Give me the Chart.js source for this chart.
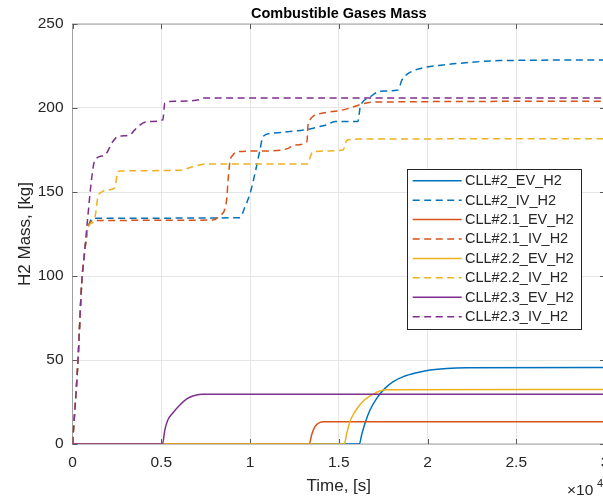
<!DOCTYPE html>
<html>
<head>
<meta charset="utf-8">
<script src="https://cdn.jsdelivr.net/npm/chart.js@4.4.0/dist/chart.umd.min.js"></script>
<style>
  html, body { margin: 0; padding: 0; overflow: hidden; background: #fff; width: 603px; height: 499px; }
  #wrap { position: absolute; left: 0; top: 0; width: 612px; height: 499px; }
</style>
</head>
<body>
<div id="wrap"><canvas id="c" width="612" height="499"></canvas></div>
<script>
// Axis ticks
const xTickValues = [0, 5000, 10000, 15000, 20000, 25000, 30000];
const xTickLabels = ['0', '0.5', '1', '1.5', '2', '2.5', '3'];
const yTickValues = [0, 50, 100, 150, 200, 250];
const yTickLabels = ['0', '50', '100', '150', '200', '250'];

// Series names
const seriesNames = ['CLL#2_EV_H2', 'CLL#2_IV_H2', 'CLL#2.1_EV_H2', 'CLL#2.1_IV_H2',
                     'CLL#2.2_EV_H2', 'CLL#2.2_IV_H2', 'CLL#2.3_EV_H2', 'CLL#2.3_IV_H2'];

// CLL#2
const cll2EvTime = [0, 16160, 16290, 16480, 16760, 17140, 17600, 18070, 18640, 19390, 20140, 21080, 22210, 30000];
const cll2EvMass = [0, 0, 5.4, 12.3, 20.2, 27.2, 33.1, 37.1, 40.1, 42.4, 44.0, 45.0, 45.4, 45.5];
const cll2IvTime = [0, 300, 520, 690, 860, 1000, 1150, 9430, 9710, 10000, 10280, 10560, 10730, 11290, 12250, 13370, 13940, 14330, 14790, 16080, 16200, 16310, 16760, 17320, 18340, 18560, 18840, 19410, 19970, 20870, 21660, 24090, 30000];
const cll2IvMass = [0, 48, 96, 115, 128, 132.5, 134.3, 134.7, 141, 149, 161, 175, 183, 185, 186, 187.5, 189, 190, 192, 192, 200, 203, 206.5, 210, 210.7, 216.7, 220, 223, 224.4, 225.6, 226.5, 228.2, 228.6];

// CLL#2.1
const cll21EvTime = [0, 13340, 13470, 13660, 13940, 14170, 30000];
const cll21EvMass = [0, 0, 5.4, 10.3, 12.9, 13.3, 13.3];
const cll21IvTime = [0, 300, 520, 690, 860, 1000, 1150, 7920, 8300, 8590, 8700, 8750, 8870, 9040, 9320, 10390, 11850, 12140, 12530, 13210, 13260, 13380, 13550, 14110, 15070, 15630, 16200, 16870, 30000];
const cll21IvMass = [0, 48, 96, 115, 128, 132, 133, 133.3, 136, 140, 147, 155, 168, 172, 174, 174.4, 175, 176, 178, 180, 189, 193, 195, 197, 198.5, 200, 202, 203.5, 204];

// CLL#2.2
const cll22EvTime = [0, 15310, 15450, 15630, 15910, 16290, 16760, 17320, 17700, 30000];
const cll22EvMass = [0, 0, 6.4, 13.3, 19.2, 24.6, 28.6, 31.5, 32.3, 32.4];
const cll22IvTime = [0, 300, 520, 690, 860, 1000, 1150, 1300, 1430, 1650, 1820, 2380, 2550, 2670, 6050, 6780, 7570, 13210, 13550, 15240, 15470, 16200, 30000];
const cll22IvMass = [0, 48, 96, 115, 128, 131, 132, 137, 147, 150, 151, 152.4, 162, 162.5, 163, 165, 166.7, 166.7, 174, 175, 181, 181.5, 181.7];

// CLL#2.3
const cll23EvTime = [0, 5070, 5200, 5370, 5650, 6050, 6440, 6780, 7290, 30000];
const cll23EvMass = [0, 0, 8.3, 14.3, 18.5, 23.2, 26.8, 28.6, 29.6, 29.6];
const cll23IvTime = [0, 300, 520, 690, 860, 1090, 1260, 1820, 2270, 2550, 3230, 3510, 3960, 4470, 5090, 5200, 5770, 7180, 7350, 30000];
const cll23IvMass = [0, 48, 96, 115, 135, 159, 169, 172, 180, 183, 184, 187, 191, 192, 193, 203, 204, 205, 206, 206];

const seriesTimes = [cll2EvTime, cll2IvTime, cll21EvTime, cll21IvTime, cll22EvTime, cll22IvTime, cll23EvTime, cll23IvTime];
const seriesMasses = [cll2EvMass, cll2IvMass, cll21EvMass, cll21IvMass, cll22EvMass, cll22IvMass, cll23EvMass, cll23IvMass];
const seriesColors = ['#0072BD', '#0072BD', '#D95319', '#D95319', '#EDB120', '#EDB120', '#7E2F8E', '#7E2F8E'];
const dashPattern = [7, 4.5];

const FONT = "'Liberation Sans', Arial, Helvetica, sans-serif";

const datasets = seriesNames.map((name, i) => ({
  label: name,
  data: seriesTimes[i].map((t, k) => ({ x: t, y: seriesMasses[i][k] })),
  borderColor: seriesColors[i],
  backgroundColor: seriesColors[i],
  borderWidth: 1.5,
  borderDash: i % 2 === 1 ? dashPattern : [],
  pointRadius: 0,
  pointHoverRadius: 0,
  fill: false,
  cubicInterpolationMode: 'monotone',
  order: seriesNames.length - 1 - i   // later series drawn on top
}));

// Box outline and inward tick marks
const framePlugin = {
  id: 'frame',
  beforeDatasetsDraw(chart) {
    const { ctx, chartArea: a, scales } = chart;
    ctx.save();
    ctx.strokeStyle = '#a0a0a0';
    ctx.lineWidth = 1;
    ctx.strokeRect(a.left, a.top, a.right - a.left, a.bottom - a.top);
    ctx.strokeStyle = '#5a5a5a';
    ctx.beginPath();
    const tl = 5;
    xTickValues.forEach(v => {
      const px = Math.round(scales.x.getPixelForValue(v)) + 0.5;
      ctx.moveTo(px, a.bottom); ctx.lineTo(px, a.bottom - tl);
      ctx.moveTo(px, a.top); ctx.lineTo(px, a.top + tl);
    });
    yTickValues.forEach(v => {
      const py = Math.round(scales.y.getPixelForValue(v)) + 0.5;
      ctx.moveTo(a.left, py); ctx.lineTo(a.left + tl, py);
      ctx.moveTo(a.right, py); ctx.lineTo(a.right - tl, py);
    });
    ctx.stroke();
    ctx.restore();
  },
  afterDraw(chart) {
    const { ctx, chartArea: a } = chart;
    const cx = (a.left + a.right) / 2;
    ctx.save();
    // Title
    ctx.fillStyle = '#000';
    ctx.font = 'bold 14.5px ' + FONT;
    ctx.textAlign = 'center';
    ctx.textBaseline = 'middle';
    ctx.fillText('Combustible Gases Mass', cx, 14);
    // Axis titles
    ctx.fillStyle = '#262626';
    ctx.font = '17px ' + FONT;
    ctx.fillText('Time, [s]', cx, 486);
    ctx.save();
    ctx.translate(25, (a.top + a.bottom) / 2);
    ctx.rotate(-Math.PI / 2);
    ctx.fillText('H2 Mass, [kg]', 0, 0);
    ctx.restore();
    // Exponent of the x axis
    ctx.textAlign = 'left';
    ctx.font = '15.5px ' + FONT;
    ctx.fillText('\u00d710', 567, 491);
    ctx.font = '11px ' + FONT;
    ctx.fillText('4', 597, 484);

    // Legend
    const L = { x: 407.5, y: 169.5, w: 174, h: 160 };
    ctx.fillStyle = '#fff';
    ctx.fillRect(L.x, L.y, L.w, L.h);
    ctx.strokeStyle = '#262626';
    ctx.lineWidth = 1;
    ctx.strokeRect(L.x, L.y, L.w, L.h);
    ctx.font = '14.5px ' + FONT;
    ctx.textBaseline = 'middle';
    chart.data.datasets.forEach((ds, i) => {
      const ry = 180.7 + i * 19.43;
      ctx.strokeStyle = ds.borderColor;
      ctx.lineWidth = ds.borderWidth;
      ctx.setLineDash(ds.borderDash);
      ctx.beginPath();
      ctx.moveTo(412.7, ry); ctx.lineTo(461.7, ry);
      ctx.stroke();
      ctx.setLineDash([]);
      ctx.fillStyle = '#262626';
      ctx.fillText(ds.label, 465, ry + 0.5);
    });
    ctx.restore();
  }
};

new Chart(document.getElementById('c'), {
  type: 'line',
  data: { datasets },
  plugins: [framePlugin],
  options: {
    responsive: false,
    animation: false,
    devicePixelRatio: 1,
    events: [],
    layout: { padding: { left: 0, right: 7, top: 24, bottom: 0 } },
    plugins: { legend: { display: false }, title: { display: false }, tooltip: { enabled: false } },
    scales: {
      x: {
        type: 'linear', min: 0, max: 30000,
        afterBuildTicks: s => { s.ticks = xTickValues.map(v => ({ value: v })); },
        afterFit: s => { s.height = 55; s.paddingLeft = 0; s.paddingRight = 0; },
        grid: { color: '#e6e6e6', lineWidth: 1, drawTicks: false },
        border: { display: false },
        ticks: {
          padding: 9, color: '#262626', maxRotation: 0, autoSkip: false,
          font: { family: FONT, size: 15.5 },
          callback: (v, i) => xTickLabels[i]
        }
      },
      y: {
        type: 'linear', min: 0, max: 250,
        afterBuildTicks: s => { s.ticks = yTickValues.map(v => ({ value: v })); },
        afterFit: s => { s.width = 72.5; s.paddingTop = 0; s.paddingBottom = 0; },
        grid: { color: '#e6e6e6', lineWidth: 1, drawTicks: false },
        border: { display: false },
        ticks: {
          padding: 9, color: '#262626', autoSkip: false,
          font: { family: FONT, size: 15.5 },
          callback: (v, i) => yTickLabels[i]
        }
      }
    }
  }
});
</script>
</body>
</html>
